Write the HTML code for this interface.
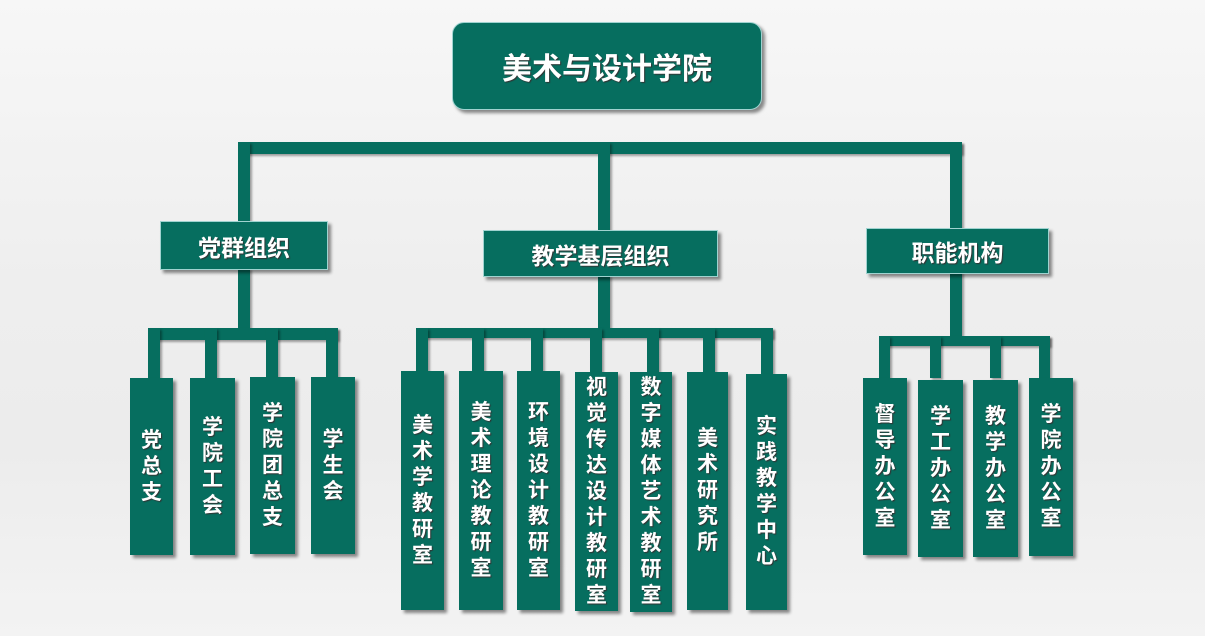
<!DOCTYPE html>
<html><head><meta charset="utf-8"><style>
body{margin:0;width:1205px;height:636px;overflow:hidden;position:relative;
background:linear-gradient(180deg,#f7f7f7 0%,#eeeeee 45%,#ececec 70%,#f3f3f3 100%);
font-family:"Liberation Sans","Noto Sans CJK SC",sans-serif;}
.b{position:absolute;background:#066e5f;box-shadow:3px 3px 3px rgba(0,0,0,.45);}
.l{position:absolute;background:#066e5f;box-shadow:2px 2px 2px rgba(0,0,0,.35);}
.h{color:#fff;font-weight:bold;display:flex;align-items:center;justify-content:center;text-shadow:1px 1px 1px #333;border:1px solid #9fd3d0;box-sizing:border-box;}
.v{color:#fff;font-weight:bold;font-size:21px;line-height:26px;display:flex;align-items:center;justify-content:center;text-align:center;text-shadow:1px 1px 1px #333;}
.v span{width:22px;word-break:break-all;}
</style></head><body>
<!-- lines -->
<div class="l" style="left:238px;top:142px;width:724px;height:12px"></div>
<div class="l" style="left:238px;top:142px;width:12px;height:80px"></div>
<div class="l" style="left:598px;top:142px;width:12px;height:90px"></div>
<div class="l" style="left:950px;top:142px;width:12px;height:88px"></div>
<div class="l" style="left:238px;top:268px;width:12px;height:64px"></div>
<div class="l" style="left:598px;top:275px;width:12px;height:57px"></div>
<div class="l" style="left:950px;top:271px;width:12px;height:70px"></div>
<div class="l" style="left:148px;top:328px;width:190px;height:12px"></div>
<div class="l" style="left:148px;top:328px;width:12px;height:52px"></div>
<div class="l" style="left:205px;top:328px;width:12px;height:52px"></div>
<div class="l" style="left:266px;top:328px;width:12px;height:52px"></div>
<div class="l" style="left:326px;top:328px;width:12px;height:52px"></div>
<div class="l" style="left:416px;top:328px;width:357px;height:10px"></div>
<div class="l" style="left:416px;top:328px;width:12px;height:44px"></div>
<div class="l" style="left:472px;top:328px;width:12px;height:44px"></div>
<div class="l" style="left:531px;top:328px;width:12px;height:44px"></div>
<div class="l" style="left:590px;top:328px;width:12px;height:44px"></div>
<div class="l" style="left:647px;top:328px;width:12px;height:44px"></div>
<div class="l" style="left:703px;top:328px;width:12px;height:44px"></div>
<div class="l" style="left:761px;top:328px;width:12px;height:46px"></div>
<div class="l" style="left:879px;top:336px;width:171px;height:10px"></div>
<div class="l" style="left:879px;top:336px;width:11px;height:42px"></div>
<div class="l" style="left:930px;top:336px;width:11px;height:42px"></div>
<div class="l" style="left:990px;top:336px;width:11px;height:42px"></div>
<div class="l" style="left:1039px;top:336px;width:11px;height:44px"></div>
<!-- headers -->
<div class="b h" style="left:452px;top:22px;width:310px;height:88px;border-radius:12px;font-size:30px;">美术与设计学院</div>
<div class="b h" style="left:160px;top:221px;width:168px;height:49px;font-size:23px;">党群组织</div>
<div class="b h" style="left:483px;top:230px;width:235px;height:47px;font-size:23px;">教学基层组织</div>
<div class="b h" style="left:866px;top:228px;width:183px;height:46px;font-size:23px;">职能机构</div>
<!-- children -->
<div class="b v" style="left:130px;top:378px;width:43px;height:177px"><span>党总支</span></div>
<div class="b v" style="left:190px;top:378px;width:45px;height:177px"><span>学院工会</span></div>
<div class="b v" style="left:250px;top:377px;width:45px;height:177px"><span>学院团总支</span></div>
<div class="b v" style="left:311px;top:377px;width:44px;height:177px"><span>学生会</span></div>
<div class="b v" style="left:401px;top:371px;width:43px;height:239px"><span>美术学教研室</span></div>
<div class="b v" style="left:459px;top:371px;width:44px;height:239px"><span>美术理论教研室</span></div>
<div class="b v" style="left:517px;top:371px;width:43px;height:239px"><span>环境设计教研室</span></div>
<div class="b v" style="left:575px;top:372px;width:43px;height:239px"><span>视觉传达设计教研室</span></div>
<div class="b v" style="left:630px;top:372px;width:42px;height:240px"><span>数字媒体艺术教研室</span></div>
<div class="b v" style="left:687px;top:372px;width:41px;height:238px"><span>美术研究所</span></div>
<div class="b v" style="left:746px;top:374px;width:41px;height:236px"><span>实践教学中心</span></div>
<div class="b v" style="left:863px;top:378px;width:44px;height:177px"><span>督导办公室</span></div>
<div class="b v" style="left:918px;top:380px;width:45px;height:177px"><span>学工办公室</span></div>
<div class="b v" style="left:973px;top:380px;width:45px;height:177px"><span>教学办公室</span></div>
<div class="b v" style="left:1029px;top:378px;width:44px;height:178px"><span>学院办公室</span></div>
</body></html>
